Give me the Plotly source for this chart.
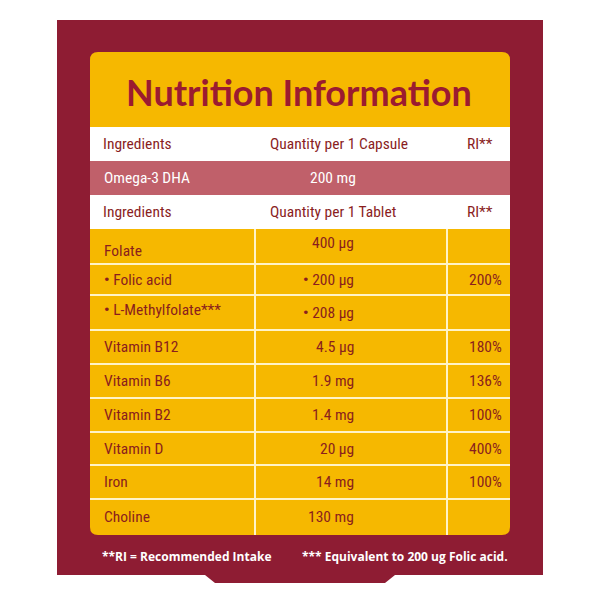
import plotly.graph_objects as go

title = "Nutrition Information"
headers = ["Ingredients", "Quantity per 1 Capsule", "RI**"]
headers2 = ["Ingredients", "Quantity per 1 Tablet", "RI**"]
capsule_item = ["Omega-3 DHA", "200 mg"]
ingredients = ["Folate", "<b>•</b> Folic acid", "<b>•</b> L-Methylfolate***", "Vitamin B12", "Vitamin B6",
               "Vitamin B2", "Vitamin D", "Iron", "Choline"]
quantities = ["400 µg", "<b>•</b> 200 µg", "<b>•</b> 208 µg", "4.5 µg", "1.9 mg", "1.4 mg", "20 µg", "14 mg", "130 mg"]
ri = ["", "200%", "", "180%", "136%", "100%", "400%", "100%", ""]
footnotes = ["**RI = Recommended Intake", "*** Equivalent to 200 ug Folic acid."]

row_edges = [229, 264, 295, 330, 364, 398, 432, 465, 499, 535]
MAROON = "#8e1c33"
TXT = "#8a1e1e"
FONT = "Liberation Sans Narrow, Roboto Condensed, Arial Narrow, sans-serif"

fig = go.Figure()
shapes = []
shapes.append(dict(type="rect", x0=57, x1=543, y0=20, y1=575, fillcolor=MAROON, line_width=0, layer="below"))
shapes.append(dict(type="path", path="M 205 575 L 215 583 L 385 583 L 395 575 Z", fillcolor=MAROON, line_width=0, layer="below"))
r = 8
x0, x1, y0, y1 = 90, 510, 52, 535
shapes.append(dict(type="path", fillcolor="#f6b800", line_width=0, layer="below",
                   path=f"M {x0+r} {y0} L {x1-r} {y0} Q {x1} {y0} {x1} {y0+r} L {x1} {y1-r} Q {x1} {y1} {x1-r} {y1} "
                        f"L {x0+r} {y1} Q {x0} {y1} {x0} {y1-r} L {x0} {y0+r} Q {x0} {y0} {x0+r} {y0} Z"))
shapes.append(dict(type="rect", x0=90, x1=510, y0=127, y1=161, fillcolor="white", line_width=0, layer="below"))
shapes.append(dict(type="rect", x0=90, x1=510, y0=161, y1=195, fillcolor="#c0606a", line_width=0, layer="below"))
shapes.append(dict(type="rect", x0=90, x1=510, y0=195, y1=229, fillcolor="white", line_width=0, layer="below"))
for y in row_edges[1:-1]:
    shapes.append(dict(type="line", x0=90, x1=510, y0=y, y1=y, line=dict(color="#fff3c8", width=2)))
for x in (255, 447):
    shapes.append(dict(type="line", x0=x, x1=x, y0=229, y1=535, line=dict(color="#fff3c8", width=2)))

ann = []
ann.append(dict(x=299, y=92, text="<b>" + title + "</b>", showarrow=False,
                font=dict(family="Lato, Open Sans, sans-serif", size=36, color="#9b1b30")))
for yc, hdr in ((144, headers), (212, headers2)):
    ann.append(dict(x=101, y=yc, text=hdr[0], xanchor="left", showarrow=False, font=dict(family=FONT, size=15.5, color=TXT)))
    ann.append(dict(x=268, y=yc, text=hdr[1], xanchor="left", showarrow=False, font=dict(family=FONT, size=15.5, color=TXT)))
    ann.append(dict(x=465, y=yc, text=hdr[2], xanchor="left", showarrow=False, font=dict(family=FONT, size=15.5, color=TXT)))
ann.append(dict(x=102, y=178, text=capsule_item[0], xanchor="left", showarrow=False, font=dict(family=FONT, size=15.5, color="white")))
ann.append(dict(x=308, y=178, text=capsule_item[1], xanchor="left", showarrow=False, font=dict(family=FONT, size=15.5, color="white")))
for i, (a, q, p) in enumerate(zip(ingredients, quantities, ri)):
    yc = (row_edges[i] + row_edges[i + 1]) / 2
    ann.append(dict(x=102, y=yc + (4 if i == 0 else 0) - (3 if i == 2 else 0), text=a, xanchor="left", showarrow=False,
                    font=dict(family=FONT, size=15.5, color=TXT)))
    ann.append(dict(x=356, y=yc - (4 if i == 0 else 0), text=q, xanchor="right", showarrow=False,
                    font=dict(family=FONT, size=15.5, color=TXT)))
    if p:
        ann.append(dict(x=504, y=yc, text=p, xanchor="right", showarrow=False, font=dict(family=FONT, size=15.5, color=TXT)))
ann.append(dict(x=100, y=556, text="<b>" + footnotes[0] + "</b>", xanchor="left", showarrow=False,
                font=dict(family="Open Sans, sans-serif", size=12, color="white")))
ann.append(dict(x=510, y=556, text="<b>" + footnotes[1] + "</b>", xanchor="right", showarrow=False,
                font=dict(family="Open Sans, sans-serif", size=12, color="white")))

fig.update_layout(width=600, height=600, margin=dict(l=0, r=0, t=0, b=0),
                  paper_bgcolor="white", plot_bgcolor="white", shapes=shapes, annotations=ann,
                  xaxis=dict(range=[8, 608], visible=False, fixedrange=True),
                  yaxis=dict(range=[608, 8], visible=False, fixedrange=True), showlegend=False)
fig.write_html("out.html", config={"displayModeBar": False})
